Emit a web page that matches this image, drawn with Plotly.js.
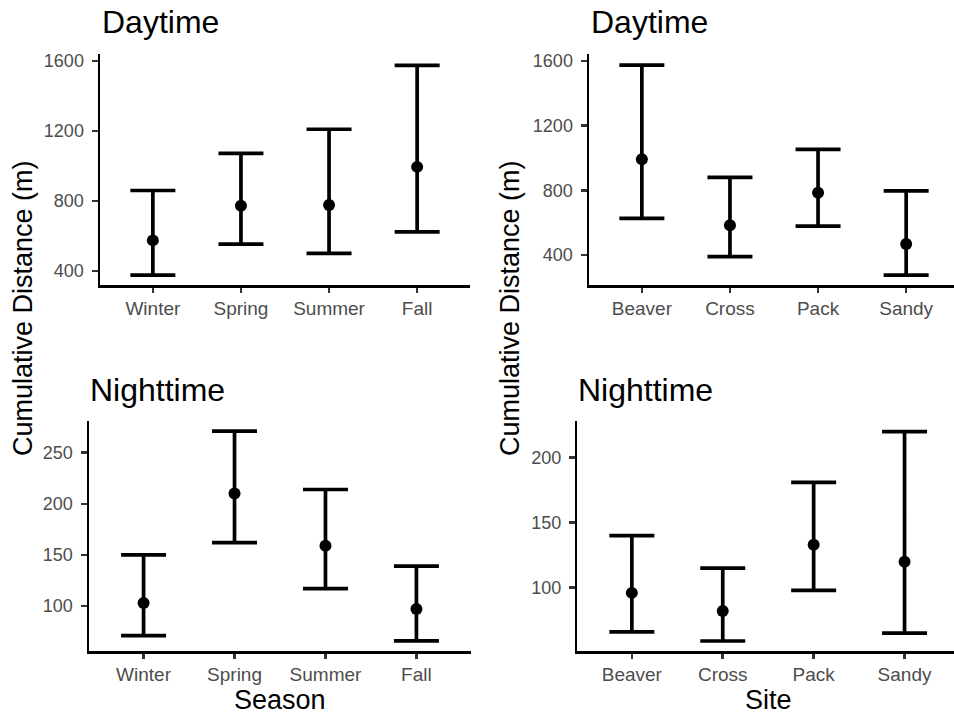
<!DOCTYPE html>
<html>
<head>
<meta charset="utf-8">
<script src="https://cdn.plot.ly/plotly-3.0.1.min.js"></script>
<style>html,body{margin:0;padding:0;background:#fff;}#chart{width:954px;height:715px;}</style>
</head>
<body>
<div id="chart"></div>
<script>
// ---- data ----
const seasons = ['Winter', 'Spring', 'Summer', 'Fall'];
const sites = ['Beaver', 'Cross', 'Pack', 'Sandy'];

const daySeasonMean = [575, 773, 777, 995];
const daySeasonLow  = [377, 554, 501, 624];
const daySeasonHigh = [860, 1072, 1210, 1575];

const daySiteMean = [993, 585, 785, 468];
const daySiteLow  = [627, 390, 579, 276];
const daySiteHigh = [1574, 880, 1053, 797];

const nightSeasonMean = [103, 210, 159, 97];
const nightSeasonLow  = [71, 162, 117, 66];
const nightSeasonHigh = [150, 271, 214, 139];

const nightSiteMean = [96, 82, 133, 120];
const nightSiteLow  = [66, 59, 98, 65];
const nightSiteHigh = [140, 115, 181, 220];

const panelTitles = ['Daytime', 'Daytime', 'Nighttime', 'Nighttime'];
const yTitle = 'Cumulative Distance (m)';
const xTitles = ['Season', 'Site'];

// ---- build ----
const W = 954, H = 715;
const FONT = 'Liberation Sans, Arial, sans-serif';

function mk(x, mean, low, high, xa, ya) {
  return {
    type: 'scatter', mode: 'markers', x: x, y: mean,
    xaxis: xa, yaxis: ya, cliponaxis: false, showlegend: false,
    marker: {color: '#000', size: 12},
    error_y: {
      type: 'data', symmetric: false,
      array: high.map((h, i) => h - mean[i]),
      arrayminus: low.map((l, i) => mean[i] - l),
      color: '#000', thickness: 3.7, width: 22.5
    },
    hoverinfo: 'x+y'
  };
}

const traces = [
  mk(seasons, daySeasonMean, daySeasonLow, daySeasonHigh, 'x', 'y'),
  mk(sites, daySiteMean, daySiteLow, daySiteHigh, 'x2', 'y2'),
  mk(seasons, nightSeasonMean, nightSeasonLow, nightSeasonHigh, 'x3', 'y3'),
  mk(sites, nightSiteMean, nightSiteLow, nightSiteHigh, 'x4', 'y4')
];

function xax(d0, d1, anchor, r1) {
  return {
    domain: [d0, d1], anchor: anchor, type: 'category', range: [-0.6, r1],
    showline: true, linecolor: '#000', linewidth: 2.5, mirror: false,
    showgrid: false, zeroline: false,
    ticks: 'outside', ticklen: 5, tickwidth: 2.5, tickcolor: '#333',
    tickfont: {family: FONT, size: 19, color: '#4D4D4D'}, fixedrange: true
  };
}
function yax(d0, d1, anchor, range, dtick) {
  return {
    domain: [d0, d1], anchor: anchor, range: range, dtick: dtick, tick0: 0,
    showline: true, linecolor: '#000', linewidth: 2.5, mirror: false,
    showgrid: false, zeroline: false,
    ticks: 'outside', ticklen: 6, tickwidth: 2.5, tickcolor: '#333',
    ticklabelstandoff: 4,
    tickfont: {family: FONT, size: 18, color: '#4D4D4D'}, fixedrange: true
  };
}

const px = v => v / W;
const py = v => 1 - v / H;

const layout = {
  width: W, height: H,
  margin: {l: 0, r: 0, t: 0, b: 0},
  paper_bgcolor: '#fff', plot_bgcolor: '#fff',
  showlegend: false,
  font: {family: FONT},
  xaxis:  xax(px(100), px(470), 'y', 3.6),
  yaxis:  yax(py(285), py(54), 'x', [320, 1640], 400),
  xaxis2: xax(px(589), 1, 'y2', 3.543),
  yaxis2: yax(py(285), py(54), 'x2', [215, 1643], 400),
  xaxis3: xax(px(89), px(471), 'y3', 3.6),
  yaxis3: yax(py(651), py(421), 'x3', [56, 281], 50),
  xaxis4: xax(px(577.3), 1, 'y4', 3.544),
  yaxis4: yax(py(651), py(421), 'x4', [51.3, 228.2], 50),
  annotations: [
    {text: panelTitles[0], xref: 'paper', yref: 'paper', x: px(100), y: py(22), xanchor: 'left', yanchor: 'middle', showarrow: false, font: {family: FONT, size: 32, color: '#000'}},
    {text: panelTitles[1], xref: 'paper', yref: 'paper', x: px(589), y: py(22), xanchor: 'left', yanchor: 'middle', showarrow: false, font: {family: FONT, size: 32, color: '#000'}},
    {text: panelTitles[2], xref: 'paper', yref: 'paper', x: px(88), y: py(390), xanchor: 'left', yanchor: 'middle', showarrow: false, font: {family: FONT, size: 32, color: '#000'}},
    {text: panelTitles[3], xref: 'paper', yref: 'paper', x: px(576), y: py(390), xanchor: 'left', yanchor: 'middle', showarrow: false, font: {family: FONT, size: 32, color: '#000'}},
    {text: yTitle, xref: 'paper', yref: 'paper', x: px(23), y: py(308), xanchor: 'center', yanchor: 'middle', textangle: -90, showarrow: false, font: {family: FONT, size: 27, color: '#000'}},
    {text: yTitle, xref: 'paper', yref: 'paper', x: px(510), y: py(308), xanchor: 'center', yanchor: 'middle', textangle: -90, showarrow: false, font: {family: FONT, size: 27, color: '#000'}},
    {text: xTitles[0], xref: 'paper', yref: 'paper', x: px(280), y: py(700), xanchor: 'center', yanchor: 'middle', showarrow: false, font: {family: FONT, size: 27, color: '#000'}},
    {text: xTitles[1], xref: 'paper', yref: 'paper', x: px(768), y: py(700), xanchor: 'center', yanchor: 'middle', showarrow: false, font: {family: FONT, size: 27, color: '#000'}}
  ]
};

Plotly.newPlot('chart', traces, layout, {displayModeBar: false, staticPlot: true});
</script>
</body>
</html>
